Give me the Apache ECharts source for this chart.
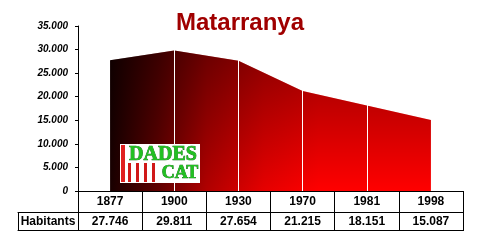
<!DOCTYPE html>
<html><head><meta charset="utf-8">
<script src="https://cdn.jsdelivr.net/npm/echarts@6/dist/echarts.min.js"></script>
<style>html,body{margin:0;padding:0;background:#fff}#c{width:480px;height:240px}</style>
</head><body><div id="c"></div>
<script>
var title = 'Matarranya';
var years = ['1877','1900','1930','1970','1981','1998'];
var habitants = [27746, 29811, 27654, 21215, 18151, 15087];
var rowHeader = ['Habitants'];
var dividerYears = ['1900','1930','1970','1981'];
var yMin = 0, yMax = 35000, yStep = 5000;

function fmt(v){ return String(v).replace(/\B(?=(\d{3})+(?!\d))/g, '.'); }

var chart = echarts.init(document.getElementById('c'));
var FONT = 'Liberation Sans';
var tableLabel = {color:'#000', fontFamily:FONT, fontWeight:'bold', fontSize:12, interval:0};

chart.setOption({
  animation:false,
  backgroundColor:'#fff',
  title:{text:title, left:'center', top:6,
    textStyle:{color:'#a00000', fontFamily:FONT, fontWeight:'bold', fontSize:24}},
  grid:[
    {left:78, right:17, top:26, bottom:49},
    {left:18, width:60, top:200, bottom:28}
  ],
  xAxis:[
    {gridIndex:0, type:'category', data:years, boundaryGap:true,
     axisLine:{lineStyle:{color:'#000', width:1}},
     axisTick:{show:true, interval:0, alignWithLabel:false, length:40, lineStyle:{color:'#000'}},
     axisLabel:Object.assign({margin:5}, tableLabel), splitLine:{show:false}},
    {gridIndex:0, type:'category', data:years, position:'bottom', offset:21, boundaryGap:true,
     axisLine:{lineStyle:{color:'#000', width:1}}, axisTick:{show:false},
     axisLabel:Object.assign({margin:4, formatter:function(v,i){return fmt(habitants[i]);}}, tableLabel),
     splitLine:{show:false}},
    {gridIndex:0, type:'category', data:years, position:'bottom', offset:39, boundaryGap:true,
     axisLine:{lineStyle:{color:'#000', width:1}}, axisTick:{show:false}, axisLabel:{show:false}},
    {gridIndex:1, type:'category', data:rowHeader, boundaryGap:true,
     axisLine:{lineStyle:{color:'#000', width:1}},
     axisTick:{show:true, interval:0, alignWithLabel:false, length:18, lineStyle:{color:'#000'}},
     axisLabel:Object.assign({margin:4}, tableLabel)},
    {gridIndex:1, type:'category', data:rowHeader, position:'bottom', offset:18, boundaryGap:true,
     axisLine:{lineStyle:{color:'#000', width:1}}, axisTick:{show:false}, axisLabel:{show:false}}
  ],
  yAxis:[
    {gridIndex:0, type:'value', min:yMin, max:yMax, interval:yStep,
     axisLine:{show:true, lineStyle:{color:'#000', width:1}},
     axisTick:{show:true, length:3, lineStyle:{color:'#000'}},
     splitLine:{show:false},
     axisLabel:{margin:10, color:'#000', fontFamily:FONT, fontWeight:'bold', fontStyle:'italic', fontSize:10,
       formatter:function(v){return fmt(v);}}},
    {gridIndex:1, type:'value', min:0, max:1, show:false}
  ],
  series:[
    {type:'line', xAxisIndex:0, yAxisIndex:0, data:habitants, symbol:'none',
     lineStyle:{width:0, opacity:0},
     areaStyle:{opacity:1, color:new echarts.graphic.LinearGradient(0,0,1,0,[
        {offset:0, color:'#180000'},{offset:0.15, color:'#600000'},{offset:0.3, color:'#b00000'},
        {offset:0.48, color:'#e60000'},{offset:0.65, color:'#ff0000'},{offset:1, color:'#ff0000'}])},
     markLine:{silent:true, symbol:'none', label:{show:false},
       lineStyle:{color:'#ffffff', width:1, type:'solid'},
       data:dividerYears.map(function(y){return {xAxis:y};})}},
    {type:'line', xAxisIndex:0, yAxisIndex:0, data:habitants, symbol:'none', z:3,
     lineStyle:{width:0, opacity:0},
     areaStyle:{opacity:1, color:new echarts.graphic.LinearGradient(0,0,0,1,[
        {offset:0, color:'rgba(0,0,0,0.4)'},{offset:1, color:'rgba(0,0,0,0)'}])}}
  ],
  graphic:{elements:[
    {type:'group', x:120, y:144, children:[
      {type:'rect', z:100, shape:{x:0,y:0,width:80,height:39}, style:{fill:'#ffffff'}},
      {type:'rect', z:101, shape:{x:1,y:1,width:4,height:37}, style:{fill:'#e02020'}},
      {type:'rect', z:101, shape:{x:8,y:19,width:3,height:19}, style:{fill:'#d01818'}},
      {type:'rect', z:101, shape:{x:16,y:19,width:3,height:19}, style:{fill:'#d01818'}},
      {type:'rect', z:101, shape:{x:24,y:19,width:3,height:19}, style:{fill:'#d01818'}},
      {type:'rect', z:101, shape:{x:32,y:19,width:3,height:19}, style:{fill:'#d01818'}},
      {type:'text', z:102, x:43, y:1, style:{text:'DADES', align:'center', fill:'#22c022', stroke:'#0a6a0a', lineWidth:0.7,
        fontSize:20, fontWeight:'bold', fontFamily:'Liberation Serif'}},
      {type:'text', z:102, x:60, y:20, style:{text:'CAT', align:'center', fill:'#22c022', stroke:'#0a6a0a', lineWidth:0.7,
        fontSize:18, fontWeight:'bold', fontFamily:'Liberation Serif'}}
    ]}
  ]}
});
</script></body></html>
